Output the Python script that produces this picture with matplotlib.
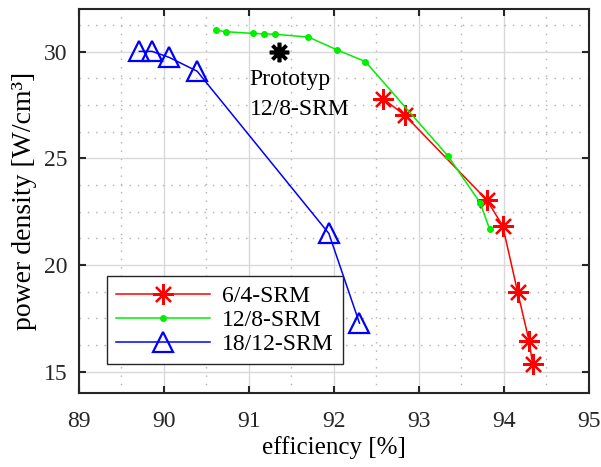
import numpy as np
import matplotlib.pyplot as plt
from matplotlib.ticker import MultipleLocator

plt.rcParams['font.family'] = ['Liberation Serif', 'DejaVu Serif']

# 6/4-SRM
eff_6_4 = [92.58, 92.835, 93.80, 93.985, 94.16, 94.295, 94.337]
pd_6_4 = [27.79, 27.01, 23.04, 21.84, 18.75, 16.45, 15.37]

# 12/8-SRM
eff_12_8 = [90.61, 90.73, 91.05, 91.18, 91.31, 91.70, 92.03, 92.37, 93.345, 93.72, 93.83]
pd_12_8 = [31.0, 30.93, 30.85, 30.83, 30.81, 30.68, 30.09, 29.53, 25.09, 22.91, 21.70]

# 18/12-SRM
eff_18_12 = [89.71, 89.86, 90.06, 90.39, 91.94, 92.30]
pd_18_12 = [30.01, 30.01, 29.73, 29.08, 21.48, 17.28]

# Prototyp
eff_proto = [91.35]
pd_proto = [30.0]

fig = plt.figure(figsize=(6.01, 4.67), dpi=100)
ax = fig.add_axes([0.1314, 0.158, 0.8486, 0.823])

star = (8, 2, 0)
ax.plot(eff_6_4, pd_6_4, color='#ff0000', lw=1.1, marker=star, ms=15, mew=1.6,
        label='6/4-SRM', zorder=3)
ax.plot(eff_12_8, pd_12_8, color='#00ee00', lw=1.1, marker='o', ms=4,
        label='12/8-SRM', zorder=3)
ax.plot(eff_18_12, pd_18_12, color='#0000ff', lw=1.1, marker='^', ms=15, mew=1.6,
        mfc='none', label='18/12-SRM', zorder=3)
ax.plot(eff_proto, pd_proto, ls='none', color='black', marker=star, ms=14, mew=2.6,
        zorder=3)
ax.text(91.01, 28.45, 'Prototyp', fontsize=17, ha='left', va='baseline')
ax.text(91.01, 27.05, '12/8-SRM', fontsize=17, ha='left', va='baseline')

ax.set_xlim(89, 95)
ax.set_ylim(14, 32)
ax.xaxis.set_major_locator(MultipleLocator(1))
ax.xaxis.set_minor_locator(MultipleLocator(0.5))
ax.set_yticks([15, 20, 25, 30])
ax.yaxis.set_minor_locator(MultipleLocator(1.25))

ax.grid(True, which='major', color='#d9d9d9', lw=1.0, ls='-')
ax.grid(True, which='minor', color='#b0b0b0', lw=1.0, ls=(0, (1, 5)))
ax.set_axisbelow(True)

ax.tick_params(which='major', direction='in', length=5, width=1.5,
               top=True, right=True, labelsize=17, colors='#262626')
ax.tick_params(axis='x', pad=13)
ax.tick_params(axis='y', pad=8)
ax.tick_params(which='minor', length=0)
for s in ax.spines.values():
    s.set_linewidth(1.5)
    s.set_color('#262626')

ax.set_xlabel('efficiency [%]', fontsize=18, labelpad=3)
ax.set_ylabel('power density [W/cm³]', fontsize=20, labelpad=5)

leg = ax.legend(loc='lower left', bbox_to_anchor=(0.054, 0.075), borderaxespad=0,
                fontsize=17, fancybox=False, framealpha=1, edgecolor='#262626',
                handlelength=4.0, handletextpad=0.5, labelspacing=0.1,
                borderpad=0.4)
leg.get_frame().set_linewidth(1.0)

fig.savefig('out.png', dpi=100)
